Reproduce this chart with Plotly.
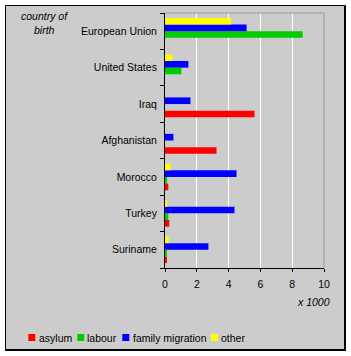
import plotly.graph_objects as go

categories = ["Suriname", "Turkey", "Morocco", "Afghanistan", "Iraq", "United States", "European Union"]
asylum = [0.08, 0.27, 0.21, 3.24, 5.63, 0.0, 0.0]
labour = [0.08, 0.21, 0.13, 0.0, 0.0, 1.03, 8.66]
family = [2.73, 4.37, 4.50, 0.53, 1.60, 1.47, 5.13]
other = [0.23, 0.13, 0.34, 0.0, 0.0, 0.46, 4.16]
series_names = ["asylum", "labour", "family migration", "other"]
series_colors = ["#ff0000", "#00cc00", "#0000ff", "#ffff00"]
x_ticks = [0, 2, 4, 6, 8, 10]

W, H = 351, 356
ML, MR, MT, MB = 165, 27, 13, 88
PW, PH = W - ML - MR, H - MT - MB


def px(x):
    return (x - ML) / PW


def py(y):
    return (H - MB - y) / PH


FONT = "Liberation Sans, Arial, sans-serif"
FS = 10.5

fig = go.Figure()
for name, vals, col in zip(series_names, [asylum, labour, family, other], series_colors):
    fig.add_trace(go.Bar(y=categories, x=vals, name=name, orientation="h",
                         marker=dict(color=col, line=dict(width=0)), showlegend=False))

shapes = [
    dict(type="rect", xref="paper", yref="paper", x0=px(5.5), x1=px(344.5), y0=py(5.5), y1=py(349.5),
         fillcolor="#cccccc", line=dict(color="black", width=1), layer="below"),
    dict(type="line", xref="paper", yref="paper", x0=px(345.5), x1=px(345.5), y0=py(5), y1=py(351),
         line=dict(color="black", width=1)),
    dict(type="line", xref="paper", yref="paper", x0=px(5), x1=px(346), y0=py(350.5), y1=py(350.5),
         line=dict(color="black", width=1)),
    # plot-area gray top/right border
    dict(type="line", xref="paper", yref="paper", x0=0, x1=1, y0=1, y1=1,
         line=dict(color="#999999", width=1)),
    dict(type="line", xref="paper", yref="paper", x0=1, x1=1, y0=0, y1=1,
         line=dict(color="#999999", width=1)),
]

annotations = [
    dict(text="<i>country of</i>", xref="paper", yref="paper", x=px(45), y=py(15.7),
         xanchor="center", yanchor="middle", showarrow=False, font=dict(family=FONT, size=FS, color="black")),
    dict(text="<i>birth</i>", xref="paper", yref="paper", x=px(45), y=py(30.3),
         xanchor="center", yanchor="middle", showarrow=False, font=dict(family=FONT, size=FS, color="black")),
    dict(text="<i>x 1000</i>", xref="paper", yref="paper", x=px(332), y=py(301.7),
         xanchor="right", yanchor="middle", showarrow=False, font=dict(family=FONT, size=FS, color="black")),
]

leg_sq_x = [28.3, 77.3, 122.3, 211]
leg_tx_x = [37.7, 86.3, 132, 220.3]
leg_y = 337.5
for name, col, sx, tx in zip(series_names, series_colors, leg_sq_x, leg_tx_x):
    shapes.append(dict(type="rect", xref="paper", yref="paper", x0=px(sx), x1=px(sx + 7),
                       y0=py(leg_y - 3.5), y1=py(leg_y + 3.5), fillcolor=col, line=dict(width=0)))
    annotations.append(dict(text=name, xref="paper", yref="paper", x=px(tx) - 1 / PW, y=py(leg_y),
                            xanchor="left", yanchor="middle", showarrow=False,
                            font=dict(family=FONT, size=FS, color="black")))

fig.update_layout(
    width=W, height=H,
    margin=dict(l=ML, r=MR, t=MT, b=MB, pad=0),
    paper_bgcolor="white", plot_bgcolor="#cccccc",
    barmode="group", bargap=0.27, bargroupgap=0,
    shapes=shapes, annotations=annotations,
    font=dict(family=FONT, size=FS, color="black"),
    xaxis=dict(range=[0, 10], tickvals=x_ticks, ticktext=[str(v) for v in x_ticks],
               showgrid=True, gridcolor="white", gridwidth=1, zeroline=False,
               showline=True, linecolor="black", linewidth=1,
               ticks="outside", ticklen=3, tickcolor="black", fixedrange=True,
               ticklabelstandoff=3,
               tickfont=dict(family=FONT, size=FS, color="black")),
    yaxis=dict(categoryorder="array", categoryarray=categories, tickson="boundaries",
               showgrid=False, zeroline=False, showline=True, linecolor="black", linewidth=1,
               ticks="outside", ticklen=4, tickcolor="black", ticklabelstandoff=5,
               tickfont=dict(family=FONT, size=FS, color="black")),
)

fig.write_html("out.html")
